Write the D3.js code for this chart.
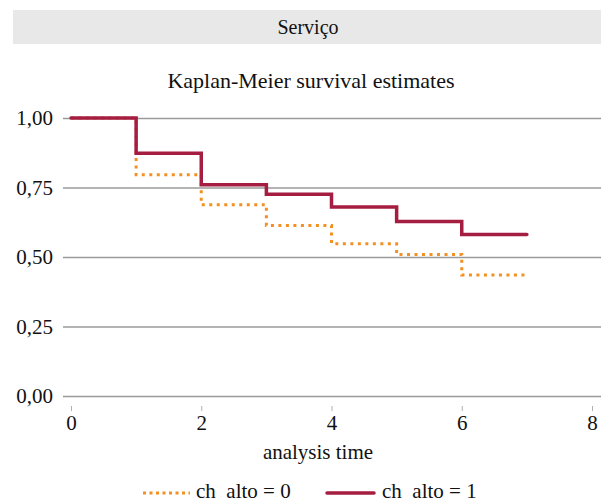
<!DOCTYPE html>
<html>
<head>
<meta charset="utf-8">
<script src="https://cdn.jsdelivr.net/npm/d3@7"></script>
</head>
<body style="margin:0">
<svg id="chart" width="601" height="503" font-family="Liberation Serif"></svg>
<script>
// Kaplan-Meier step estimates by group
const times = [0, 1, 2, 3, 4, 5, 6, 7];
const survGroup0 = [1.0, 0.796, 0.688, 0.613, 0.548, 0.509, 0.435, 0.435];
const survGroup1 = [1.0, 0.873, 0.760, 0.726, 0.680, 0.628, 0.581, 0.581];
const yTicks = [0, 0.25, 0.5, 0.75, 1.0];
const xTicks = [0, 2, 4, 6, 8];
const seriesLabels = ["ch\u00a0\u00a0alto = 0", "ch\u00a0\u00a0alto = 1"];
const stripTitle = "Serviço";
const chartTitle = "Kaplan-Meier survival estimates";
const xTitle = "analysis time";

const FONT = "Liberation Serif";
const svg = d3.select("#chart");
const x = d3.scaleLinear().domain([0, 8]).range([71, 592]);
const y = d3.scaleLinear().domain([0, 1]).range([396, 118]);
const fmt = v => d3.format(".2f")(v).replace(".", ",");

function label(sel, size) {
  return sel.attr("font-family", FONT).attr("font-size", size).attr("fill", "#111");
}

// header strip
svg.append("rect").attr("x", 13).attr("y", 10).attr("width", 588).attr("height", 34).attr("fill", "#e8e8e8");
label(svg.append("text"), 20).attr("x", 308).attr("y", 34).attr("text-anchor", "middle").text(stripTitle);
label(svg.append("text"), 22).attr("x", 311).attr("y", 88).attr("text-anchor", "middle").text(chartTitle);

// horizontal grid + y labels
const yAxis = d3.axisLeft(y).tickValues(yTicks).tickFormat(fmt).tickSize(-(601 - 63)).tickPadding(10);
const gy = svg.append("g").attr("transform", "translate(63,0)").call(yAxis);
gy.attr("font-family", FONT).attr("font-size", 21);
gy.select(".domain").remove();
gy.selectAll(".tick line").attr("stroke", "#9a9a9a").attr("stroke-width", 1.6);
label(gy.selectAll(".tick text"), 21).attr("dy", "0.33em");

// x axis
const xAxis = d3.axisBottom(x).tickValues(xTicks).tickSize(5).tickPadding(4);
const gx = svg.append("g").attr("transform", "translate(0,406)").call(xAxis);
gx.attr("font-family", FONT).attr("font-size", 21);
gx.select(".domain").remove();
gx.selectAll(".tick line").attr("stroke", "#b0b0b0").attr("stroke-width", 1);
label(gx.selectAll(".tick text"), 21);

label(svg.append("text"), 21).attr("x", 318).attr("y", 459).attr("text-anchor", "middle").text(xTitle);

// survival curves
const line = d3.line().curve(d3.curveStepAfter).x((d, i) => x(times[i])).y(d => y(d));
const colors = ["#f39021", "#a51e42"];

svg.append("path").datum(survGroup0).attr("d", line).attr("fill", "none")
  .attr("stroke", colors[0]).attr("stroke-width", 3).attr("stroke-dasharray", "3,4.5");
svg.append("path").datum(survGroup1).attr("d", line).attr("fill", "none")
  .attr("stroke", colors[1]).attr("stroke-width", 3.5).attr("stroke-linecap", "round");

// legend
const legend = [
  { x0: 143, x1: 190, tx: 196, dash: "3,3.5", w: 3, cap: "butt" },
  { x0: 327, x1: 374, tx: 382, dash: null, w: 3.5, cap: "round" }
];
legend.forEach((l, i) => {
  svg.append("line").attr("x1", l.x0).attr("x2", l.x1).attr("y1", 493).attr("y2", 493)
    .attr("stroke", colors[i]).attr("stroke-width", l.w).attr("stroke-linecap", l.cap)
    .attr("stroke-dasharray", l.dash);
  label(svg.append("text"), 21).attr("x", l.tx).attr("y", 498).text(seriesLabels[i]);
});
</script>
</body>
</html>
